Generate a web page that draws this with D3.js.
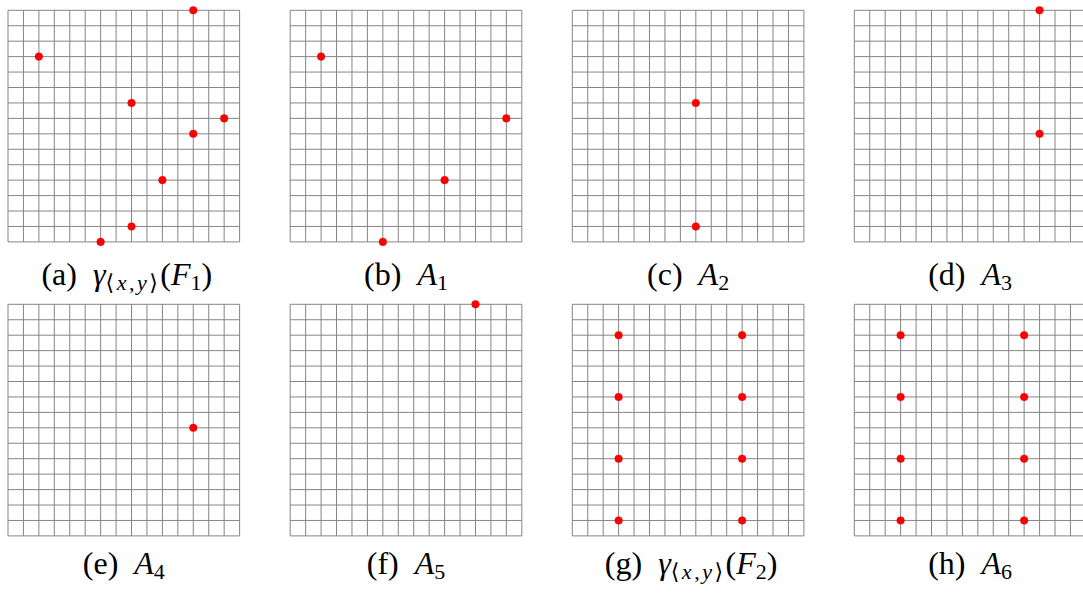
<!DOCTYPE html>
<html><head><meta charset="utf-8">
<script src="https://cdn.jsdelivr.net/npm/d3@7"></script>
<style>body{margin:0;background:#fff}svg{display:block}</style>
</head><body>
<svg id="c" width="1083" height="594"></svg>
<script>
// grid: 15 x 15 cells, coordinates 0..15 (y upward)
const gridTicks = d3.range(0, 16);
const panelLetters = ["a","b","c","d","e","f","g","h"];
const captionMain = ["γ","A","A","A","A","A","γ","A"];
const captionSub = ["F1","1","2","3","4","5","F2","6"];
const pointsA = [[12,15],[2,12],[8,9],[14,8],[12,7],[10,4],[8,1],[6,0]];
const pointsB = [[2,12],[14,8],[10,4],[6,0]];
const pointsC = [[8,9],[8,1]];
const pointsD = [[12,15],[12,7]];
const pointsE = [[12,7]];
const pointsF = [[12,15]];
const pointsG = [[3,13],[3,9],[3,5],[3,1],[11,13],[11,9],[11,5],[11,1]];
const pointsH = [[3,13],[3,9],[3,5],[3,1],[11,13],[11,9],[11,5],[11,1]];
const allPoints = [pointsA,pointsB,pointsC,pointsD,pointsE,pointsF,pointsG,pointsH];

const svg = d3.select("#c");
const size = 231.6;
const colX = [8, 290.2, 572.3, 854.3];
const rowY = [10.3, 304.3];
const capY = [284.5, 573.5];
const x = d3.scaleLinear().domain([0,15]).range([0,size]);
const y = d3.scaleLinear().domain([0,15]).range([size,0]);
const FS = 32, SS = 22, SD = 5;

allPoints.forEach((pts, i) => {
  const cx = colX[i % 4], cy = rowY[Math.floor(i / 4)];
  const g = svg.append("g").attr("transform", `translate(${cx},${cy})`);
  g.selectAll("line.v").data(gridTicks).join("line").attr("class","v")
    .attr("x1", d => x(d)).attr("x2", d => x(d)).attr("y1", 0).attr("y2", size)
    .attr("stroke", "#858585").attr("stroke-width", 1);
  g.selectAll("line.h").data(gridTicks).join("line").attr("class","h")
    .attr("y1", d => y(d)).attr("y2", d => y(d)).attr("x1", 0).attr("x2", size)
    .attr("stroke", "#858585").attr("stroke-width", 1);
  g.selectAll("circle").data(pts).join("circle")
    .attr("cx", d => x(d[0])).attr("cy", d => y(d[1])).attr("r", 3.8)
    .attr("fill", "#ff0000").attr("stroke", "#e00000").attr("stroke-width", 0.5);

  // caption
  const isGamma = captionMain[i] === "γ";
  const t = svg.append("text")
    .attr("x", cx + size / 2 + (isGamma ? 3 : 0)).attr("y", capY[Math.floor(i / 4)])
    .attr("text-anchor", "middle")
    .attr("font-family", "'Liberation Serif', 'DejaVu Serif', serif")
    .attr("font-size", FS).attr("fill", "#000");
  t.append("tspan").text(`(${panelLetters[i]})\u00A0\u00A0`);
  const sub = captionSub[i];
  if (isGamma) {
    t.append("tspan").attr("font-style", "italic").text("γ");
    const s = t.append("tspan").attr("font-size", SS).attr("dy", SD).attr("letter-spacing", 2.5);
    s.append("tspan").text("⟨");
    s.append("tspan").attr("font-style", "italic").text("x");
    s.append("tspan").text(",");
    s.append("tspan").attr("font-style", "italic").text("y");
    s.append("tspan").text("⟩");
    t.append("tspan").attr("dy", -SD).text("(");
    t.append("tspan").attr("font-style", "italic").text(sub[0]);
    t.append("tspan").attr("font-size", SS).attr("dy", SD).text(sub.slice(1));
    t.append("tspan").attr("dy", -SD).text(")");
  } else {
    t.append("tspan").attr("font-style", "italic").text("A");
    t.append("tspan").attr("font-size", SS).attr("dy", SD).text(sub);
  }
});
</script>
</body></html>
